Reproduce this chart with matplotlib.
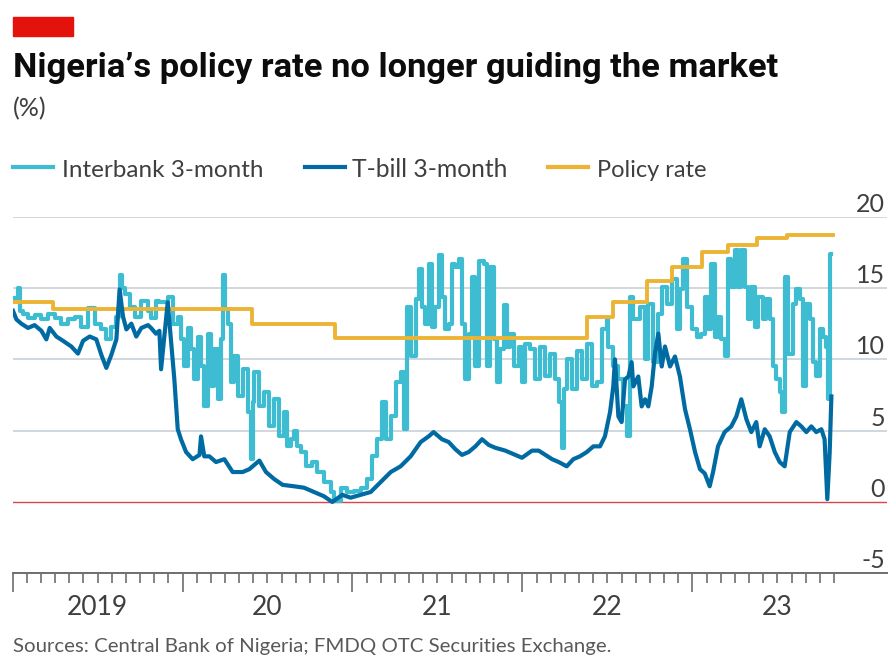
#!/usr/bin/env python
# -*- coding: utf-8 -*-
"""
Nigeria's policy rate against interbank and T-bill 3-month rates
"""

import matplotlib
matplotlib.use('Agg')
import matplotlib.pyplot as plt
from matplotlib import font_manager
from matplotlib.lines import Line2D
from matplotlib.patches import Rectangle
import matplotlib.transforms as mtransforms

# =============================================================================
# Define variables
# =============================================================================
# interbank 3-month rate (%), dates as fractional years
interbank_t = [
    2019.003, 2019.020, 2019.032, 2019.045, 2019.060, 2019.091, 2019.130,
    2019.170, 2019.209, 2019.248, 2019.287, 2019.326, 2019.366, 2019.405,
    2019.444, 2019.483, 2019.523, 2019.552, 2019.581, 2019.611, 2019.625,
    2019.632, 2019.645, 2019.660, 2019.689, 2019.719, 2019.758, 2019.797,
    2019.815, 2019.844, 2019.864, 2019.913, 2019.942, 2019.972, 2019.991,
    2020.011, 2020.030, 2020.050, 2020.070, 2020.089, 2020.109, 2020.128,
    2020.148, 2020.168, 2020.187, 2020.207, 2020.226, 2020.240, 2020.252,
    2020.266, 2020.285, 2020.305, 2020.325, 2020.354, 2020.383, 2020.403,
    2020.413, 2020.423, 2020.452, 2020.481, 2020.511, 2020.540, 2020.570,
    2020.599, 2020.615, 2020.636, 2020.656, 2020.675, 2020.695, 2020.725,
    2020.764, 2020.793, 2020.832, 2020.872, 2020.891, 2020.930, 2020.970,
    2021.009, 2021.048, 2021.087, 2021.117, 2021.146, 2021.175, 2021.195,
    2021.225, 2021.254, 2021.283, 2021.303, 2021.323, 2021.342, 2021.372,
    2021.391, 2021.411, 2021.428, 2021.448, 2021.468, 2021.487, 2021.507,
    2021.526, 2021.546, 2021.566, 2021.585, 2021.605, 2021.625, 2021.644,
    2021.664, 2021.683, 2021.703, 2021.723, 2021.742, 2021.772, 2021.791,
    2021.811, 2021.830, 2021.850, 2021.870, 2021.889, 2021.909, 2021.928,
    2021.948, 2021.977, 2021.997, 2022.017, 2022.046, 2022.075, 2022.105,
    2022.134, 2022.164, 2022.193, 2022.213, 2022.230, 2022.244, 2022.260,
    2022.289, 2022.319, 2022.348, 2022.378, 2022.407, 2022.436, 2022.466,
    2022.495, 2022.505, 2022.534, 2022.564, 2022.593, 2022.613, 2022.632,
    2022.652, 2022.691, 2022.721, 2022.740, 2022.770, 2022.799, 2022.819,
    2022.848, 2022.878, 2022.907, 2022.926, 2022.946, 2022.966, 2022.995,
    2023.025, 2023.052, 2023.072, 2023.091, 2023.111, 2023.131, 2023.150,
    2023.170, 2023.189, 2023.209, 2023.228, 2023.248, 2023.268, 2023.287,
    2023.307, 2023.326, 2023.346, 2023.366, 2023.385, 2023.415, 2023.434,
    2023.454, 2023.474, 2023.493, 2023.513, 2023.526, 2023.542, 2023.562,
    2023.591, 2023.611, 2023.631, 2023.650, 2023.670, 2023.689, 2023.709,
    2023.728, 2023.748, 2023.768, 2023.787, 2023.797, 2023.808, 2023.817]
interbank = [
    14.3, 14.1, 15.0, 13.4, 13.2, 12.9, 13.1,
    12.8, 13.2, 12.9, 12.5, 12.8, 13.0, 12.3,
    13.6, 12.5, 12.1, 11.4, 12.3, 13.0, 13.5,
    15.9, 15.0, 14.6, 13.7, 13.0, 14.1, 13.4,
    12.9, 14.1, 14.0, 14.4, 12.5, 13.0, 11.4,
    9.5, 12.2, 10.7, 8.6, 11.6, 9.5, 6.7,
    11.8, 8.1, 10.7, 7.2, 11.4, 15.9, 13.5,
    12.5, 8.4, 10.2, 7.4, 9.3, 6.3, 3.0,
    7.0, 9.1, 6.7, 7.7, 5.3, 7.2, 4.6,
    6.3, 3.9, 4.4, 5.0, 3.9, 3.5, 2.5,
    2.8, 2.1, 1.4, 0.7, 0.1, 1.0, 0.7,
    0.8, 1.0, 1.6, 3.2, 4.4, 7.0, 4.4,
    6.0, 8.4, 9.1, 5.1, 13.7, 10.2, 14.2,
    16.3, 13.7, 12.5, 16.7, 12.3, 13.7, 17.3,
    14.4, 12.1, 12.5, 16.7, 16.5, 17.0, 12.5,
    8.6, 11.8, 15.8, 9.5, 16.9, 16.7, 9.5,
    16.5, 11.4, 8.4, 10.7, 13.8, 10.9, 11.8,
    9.5, 10.9, 8.4, 11.1, 10.7, 8.6, 10.9,
    8.8, 10.4, 8.6, 7.0, 3.8, 7.9, 10.0,
    7.9, 10.6, 8.6, 11.1, 8.1, 8.4, 12.1,
    12.8, 10.9, 9.5, 8.6, 6.7, 4.6, 14.4,
    12.8, 13.7, 10.0, 13.9, 9.8, 13.2, 15.1,
    13.9, 15.6, 12.1, 14.9, 17.0, 13.7, 12.1,
    11.6, 11.8, 14.4, 12.1, 16.7, 11.6, 13.0,
    11.4, 10.2, 17.0, 15.1, 17.7, 15.1, 17.7,
    15.1, 12.8, 15.1, 12.3, 14.4, 12.8, 14.2,
    12.8, 9.5, 8.6, 7.7, 6.3, 15.8, 10.4,
    13.9, 14.9, 14.2, 8.1, 13.9, 12.8, 9.8,
    8.8, 12.1, 11.6, 10.9, 7.2, 17.4, 17.4]

# T-bill 3-month rate (%)
tbill_t = [
    2019.003, 2019.023, 2019.052, 2019.091, 2019.130, 2019.170, 2019.199,
    2019.219, 2019.258, 2019.297, 2019.346, 2019.385, 2019.415, 2019.454,
    2019.493, 2019.523, 2019.552, 2019.581, 2019.611, 2019.630, 2019.650,
    2019.670, 2019.699, 2019.728, 2019.758, 2019.797, 2019.815, 2019.844,
    2019.864, 2019.874, 2019.893, 2019.913, 2019.932, 2019.952, 2019.972,
    2019.991, 2020.021, 2020.060, 2020.100, 2020.109, 2020.128, 2020.158,
    2020.197, 2020.246, 2020.295, 2020.354, 2020.393, 2020.452, 2020.491,
    2020.540, 2020.589, 2020.656, 2020.715, 2020.774, 2020.832, 2020.881,
    2020.940, 2020.989, 2021.048, 2021.107, 2021.166, 2021.225, 2021.283,
    2021.342, 2021.401, 2021.448, 2021.477, 2021.526, 2021.566, 2021.605,
    2021.644, 2021.683, 2021.723, 2021.762, 2021.801, 2021.840, 2021.899,
    2021.958, 2021.997, 2022.056, 2022.095, 2022.134, 2022.174, 2022.213,
    2022.244, 2022.260, 2022.299, 2022.338, 2022.378, 2022.417, 2022.456,
    2022.485, 2022.515, 2022.534, 2022.544, 2022.564, 2022.583, 2022.603,
    2022.623, 2022.642, 2022.652, 2022.681, 2022.701, 2022.721, 2022.740,
    2022.760, 2022.779, 2022.799, 2022.819, 2022.838, 2022.868, 2022.897,
    2022.926, 2022.956, 2022.985, 2023.015, 2023.044, 2023.072, 2023.101,
    2023.121, 2023.150, 2023.189, 2023.228, 2023.258, 2023.287, 2023.317,
    2023.346, 2023.375, 2023.395, 2023.425, 2023.454, 2023.484, 2023.513,
    2023.542, 2023.572, 2023.611, 2023.640, 2023.670, 2023.699, 2023.728,
    2023.758, 2023.777, 2023.793, 2023.807, 2023.817]
tbill = [
    13.4, 12.8, 12.5, 12.2, 12.4, 12.0, 11.4,
    12.2, 11.6, 11.3, 10.9, 10.4, 11.3, 11.6,
    11.4, 10.3, 9.4, 10.3, 11.4, 14.9, 13.0,
    12.1, 12.5, 11.6, 12.2, 12.4, 12.2, 11.8,
    12.0, 9.3, 11.6, 14.0, 11.4, 8.6, 5.1,
    4.4, 3.5, 3.0, 3.3, 4.6, 3.2, 3.2,
    2.8, 3.0, 2.1, 2.1, 2.3, 2.9, 2.1,
    1.6, 1.2, 1.1, 1.0, 0.7, 0.4, 0.0,
    0.5, 0.3, 0.5, 0.7, 1.4, 2.1, 2.5,
    3.2, 4.2, 4.6, 4.9, 4.4, 4.2, 3.7,
    3.3, 3.5, 3.9, 4.4, 4.0, 3.8, 3.6,
    3.3, 3.1, 3.6, 3.6, 3.3, 3.0, 2.8,
    2.6, 2.5, 3.0, 3.2, 3.5, 3.9, 3.9,
    4.6, 6.3, 8.1, 10.0, 6.0, 5.6, 8.6,
    8.8, 9.8, 8.1, 8.8, 6.7, 7.2, 6.7,
    8.1, 10.4, 11.8, 9.5, 10.9, 9.5, 10.2,
    8.8, 6.5, 5.1, 3.5, 2.3, 2.0, 1.1,
    2.1, 3.9, 4.9, 5.3, 6.0, 7.2, 5.8,
    4.9, 5.6, 3.9, 5.1, 4.6, 3.5, 2.8,
    2.5, 4.9, 5.6, 5.3, 4.9, 5.3, 4.9,
    5.1, 4.4, 0.2, 3.5, 7.4]

# monetary policy rate (%), one entry per decision
policy_t = [2019.0, 2019.238, 2020.409, 2020.897, 2022.378, 2022.532,
            2022.730, 2022.878, 2023.054, 2023.209, 2023.378, 2023.554,
            2023.826]
policy = [14.0, 13.5, 12.5, 11.5, 13.0, 14.0,
          15.5, 16.5, 17.5, 18.0, 18.5, 18.75,
          18.75]

year_labels = ['2019', '20', '21', '22', '23']
y_ticks = [-5, 0, 5, 10, 15, 20]

TITLE = 'Nigeria\u2019s policy rate no longer guiding the market'
SOURCE = 'Sources: Central Bank of Nigeria; FMDQ OTC Securities Exchange.'

C_INTERBANK = '#3ebcd2'
C_TBILL = '#006ba2'
C_POLICY = '#ebb434'
C_GRID = '#c3ced6'
C_TEXT = '#3f3f3f'

W, H = 888, 657


# =============================================================================
# Define functions
# =============================================================================
def pick_font(names):
    for name in names:
        try:
            font_manager.findfont(name, fallback_to_default=False)
            return name
        except ValueError:
            pass
    return 'DejaVu Sans'


def fx(px):
    return px / W


def fy(py):
    return 1 - py / H


def fit_width(fig, txt, width_px):
    # rescale a text so that it spans the given number of pixels
    renderer = fig.canvas.get_renderer()
    cur = txt.get_window_extent(renderer=renderer).width
    txt.set_fontsize(txt.get_fontsize() * width_px / cur)


# =============================================================================
# Start of code
# =============================================================================
if __name__ == "__main__":
    body_font = pick_font(['Lato', 'Roboto'])
    title_font = pick_font(['Roboto', 'Lato'])

    plt.close()
    fig = plt.figure(figsize=(W / 100, H / 100), dpi=100)
    ax = fig.add_axes([fx(12.5), fy(573.3), fx(887) - fx(12.5),
                       fy(216.7) - fy(573.3)])

    # ------------------------------------------------------------------
    # series (interbank quotes jump day to day, so draw it as steps)
    ax.plot(interbank_t, interbank, color=C_INTERBANK, lw=3.0, zorder=3,
            drawstyle='steps-post')
    ax.plot(policy_t, policy, color=C_POLICY, lw=2.8, zorder=4,
            drawstyle='steps-post')
    ax.plot(tbill_t, tbill, color=C_TBILL, lw=3.0, zorder=5)

    # ------------------------------------------------------------------
    # axes styling
    ax.set_xlim(2019.0, 2019.0 + 874.5 / 170)
    ax.set_ylim(-5, 20)
    for side in ['top', 'left', 'right']:
        ax.spines[side].set_visible(False)
    ax.spines['bottom'].set_color('#6e6e6e')
    ax.spines['bottom'].set_linewidth(1.4)
    ax.spines['bottom'].set_zorder(6)

    years = [2019 + i for i in range(len(year_labels))]
    months = [y + m / 12 for y in years for m in range(1, 12)]
    months = [m for m in months if m < 2023.84]
    ax.set_xticks(years)
    ax.set_xticks(months, minor=True)
    ax.tick_params(axis='x', which='major', length=14, width=1.2,
                   color='#6e6e6e', labelbottom=False)
    ax.tick_params(axis='x', which='minor', length=7.5, width=1.2,
                   color='#6e6e6e')
    ax.set_yticks([])

    # horizontal grid and zero line
    for val in y_ticks[2:]:
        ax.axhline(val, color=C_GRID, lw=1.1, zorder=1)
    ax.axhline(0, color='#db444b', lw=1.0, zorder=2)

    # right-hand value labels above each gridline
    ytrans = mtransforms.blended_transform_factory(ax.transAxes, ax.transData)
    for val in y_ticks:
        ax.text(0.9977, val + 0.35, str(val), transform=ytrans,
                ha='right', va='baseline', fontsize=18, color=C_TEXT,
                family=body_font)

    # year labels centred under each year
    xtrans = ax.get_xaxis_transform()
    for yr, lab in zip(years, year_labels):
        ax.text(yr + 0.5, -(615 - 573.3) / 356.6, lab, transform=xtrans,
                ha='center', va='baseline', fontsize=19, color=C_TEXT,
                family=body_font)

    # ------------------------------------------------------------------
    # header: red tag, title, unit
    fig.patches.append(Rectangle((fx(13), fy(36)), fx(60), 19 / H,
                                 transform=fig.transFigure,
                                 color='#e3120b', zorder=10))
    title = fig.text(fx(13), fy(77), TITLE, fontsize=21, fontweight='bold',
                     family=title_font, color='#0c0c0c', va='baseline')
    fit_width(fig, title, 765)
    fig.text(fx(13), fy(116), '(%)', fontsize=18, family=body_font,
             color=C_TEXT, va='baseline')

    # legend
    entries = [(13, 62, 263, C_INTERBANK, 'Interbank 3-month'),
               (305, 352, 508, C_TBILL, 'T-bill 3-month'),
               (548, 597, 707, C_POLICY, 'Policy rate')]
    for x0, xt, xe, col, lab in entries:
        fig.lines.append(Line2D([fx(x0), fx(x0 + 40)], [fy(167), fy(167)],
                                transform=fig.transFigure, color=col,
                                lw=3.0))
        leg = fig.text(fx(xt), fy(177), lab, fontsize=19, family=body_font,
                       color=C_TEXT, va='baseline')
        fit_width(fig, leg, xe - xt)

    # source note
    src = fig.text(fx(13), fy(652), SOURCE, fontsize=15, family=body_font,
                   color='#595959', va='baseline')
    fit_width(fig, src, 597)

    plt.savefig('out.png', dpi=100)
    plt.close()

# =============================================================================
# End of code
# =============================================================================
